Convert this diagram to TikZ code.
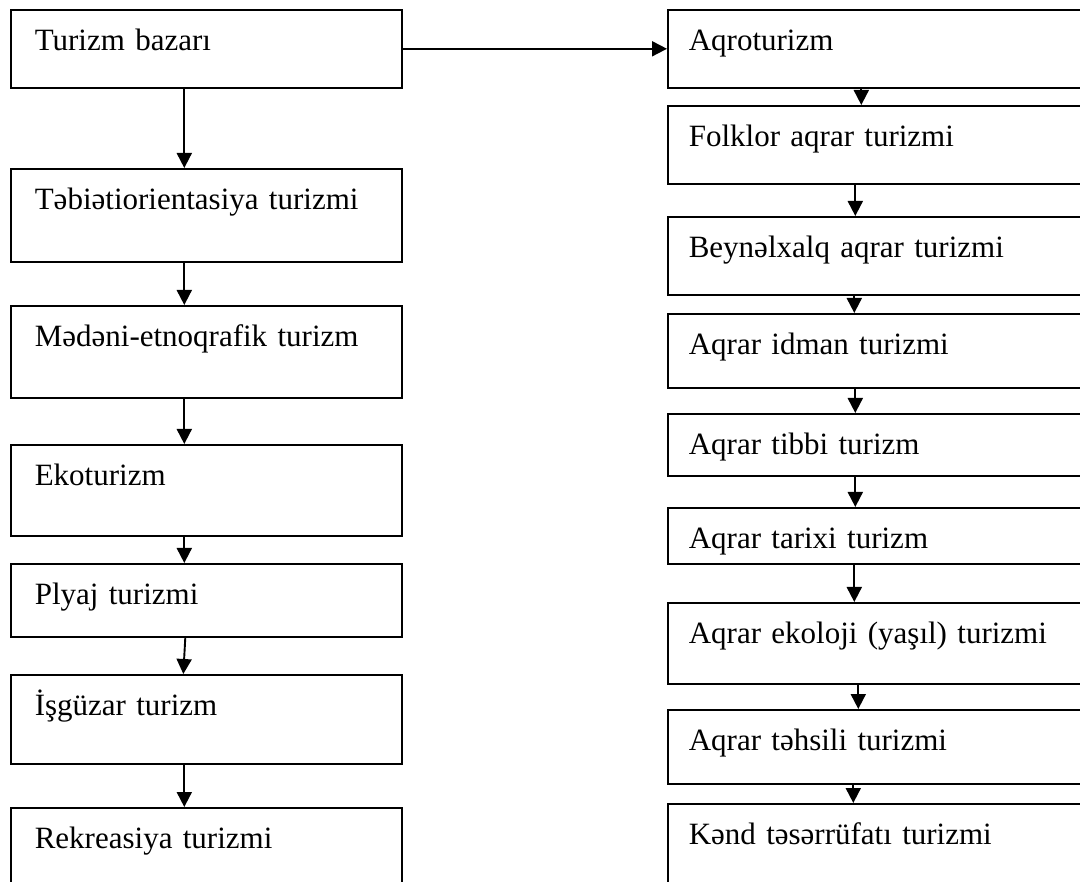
\documentclass[tikz,border=0pt]{standalone}
\usepackage{fontspec}
\setmainfont{Liberation Serif}
\usepackage{tikz}
\usetikzlibrary{arrows.meta}
\tikzset{
  blok/.style={rectangle, draw=black, line width=1.6pt, anchor=north west,
               inner ysep=0pt, text height=41pt, text depth=#1, align=left,
               font=\fontsize{31}{36}\selectfont},
  sol/.style={inner xsep=24pt, text width=343pt},
  sag/.style={inner xsep=21pt, text width=381pt},
  ox/.style={-{Triangle[length=15pt, width=15pt]}, line width=1.9pt},
}
\begin{document}
\begin{tikzpicture}[x=1pt, y=-1pt]
  \useasboundingbox (0,0) rectangle (1080,882);
  \clip (0,0) rectangle (1080,882);
  % sol sütun
  \node[blok=37pt, sol] (L1) at (10,9)   {Turizm bazarı};
  \node[blok=52pt, sol] (L2) at (10,168) {Təbiətiorientasiya turizmi};
  \node[blok=51pt, sol] (L3) at (10,305) {Mədəni-etnoqrafik turizm};
  \node[blok=50pt, sol] (L4) at (10,444) {Ekoturizm};
  \node[blok=32pt, sol] (L5) at (10,563) {Plyaj turizmi};
  \node[blok=48pt, sol] (L6) at (10,674) {İşgüzar turizm};
  \node[blok=60pt, sol] (L7) at (10,807) {Rekreasiya turizmi};
  % sağ sütun
  \node[blok=37pt, sag] (R1) at (667,9)   {Aqroturizm};
  \node[blok=37pt, sag] (R2) at (667,105) {Folklor aqrar turizmi};
  \node[blok=37pt, sag] (R3) at (667,216) {Beynəlxalq aqrar turizmi};
  \node[blok=33pt, sag] (R4) at (667,313) {Aqrar idman turizmi};
  \node[blok=21pt, sag] (R5) at (667,413) {Aqrar tibbi turizm};
  \node[blok=15pt, sag] (R6) at (667,507) {Aqrar tarixi turizm};
  \node[blok=40pt, sag] (R7) at (667,602) {Aqrar ekoloji (yaşıl) turizmi};
  \node[blok=33pt, sag] (R8) at (667,709) {Aqrar təhsili turizmi};
  \node[blok=60pt, sag] (R9) at (667,803) {Kənd təsərrüfatı turizmi};
  % oxlar
  \draw[ox] (L1.east) -- (R1.west);
  \draw[ox] ([xshift=-22pt]L1.south) -- ([xshift=-22pt]L2.north);
  \draw[ox] ([xshift=-22pt]L2.south) -- ([xshift=-22pt]L3.north);
  \draw[ox] ([xshift=-22pt]L3.south) -- ([xshift=-22pt]L4.north);
  \draw[ox] ([xshift=-22pt]L4.south) -- ([xshift=-22pt]L5.north);
  \draw[ox] ([xshift=-21pt]L5.south) -- ([xshift=-23pt]L6.north);
  \draw[ox] ([xshift=-22pt]L6.south) -- ([xshift=-22pt]L7.north);
  \draw[ox] ([xshift=-18pt]R1.south) -- ([xshift=-18pt]R2.north);
  \draw[ox] ([xshift=-24pt]R2.south) -- ([xshift=-24pt]R3.north);
  \draw[ox] ([xshift=-25pt]R3.south) -- ([xshift=-25pt]R4.north);
  \draw[ox] ([xshift=-24pt]R4.south) -- ([xshift=-24pt]R5.north);
  \draw[ox] ([xshift=-24pt]R5.south) -- ([xshift=-24pt]R6.north);
  \draw[ox] ([xshift=-25pt]R6.south) -- ([xshift=-25pt]R7.north);
  \draw[ox] ([xshift=-21pt]R7.south) -- ([xshift=-21pt]R8.north);
  \draw[ox] ([xshift=-26pt]R8.south) -- ([xshift=-26pt]R9.north);
\end{tikzpicture}
\end{document}
